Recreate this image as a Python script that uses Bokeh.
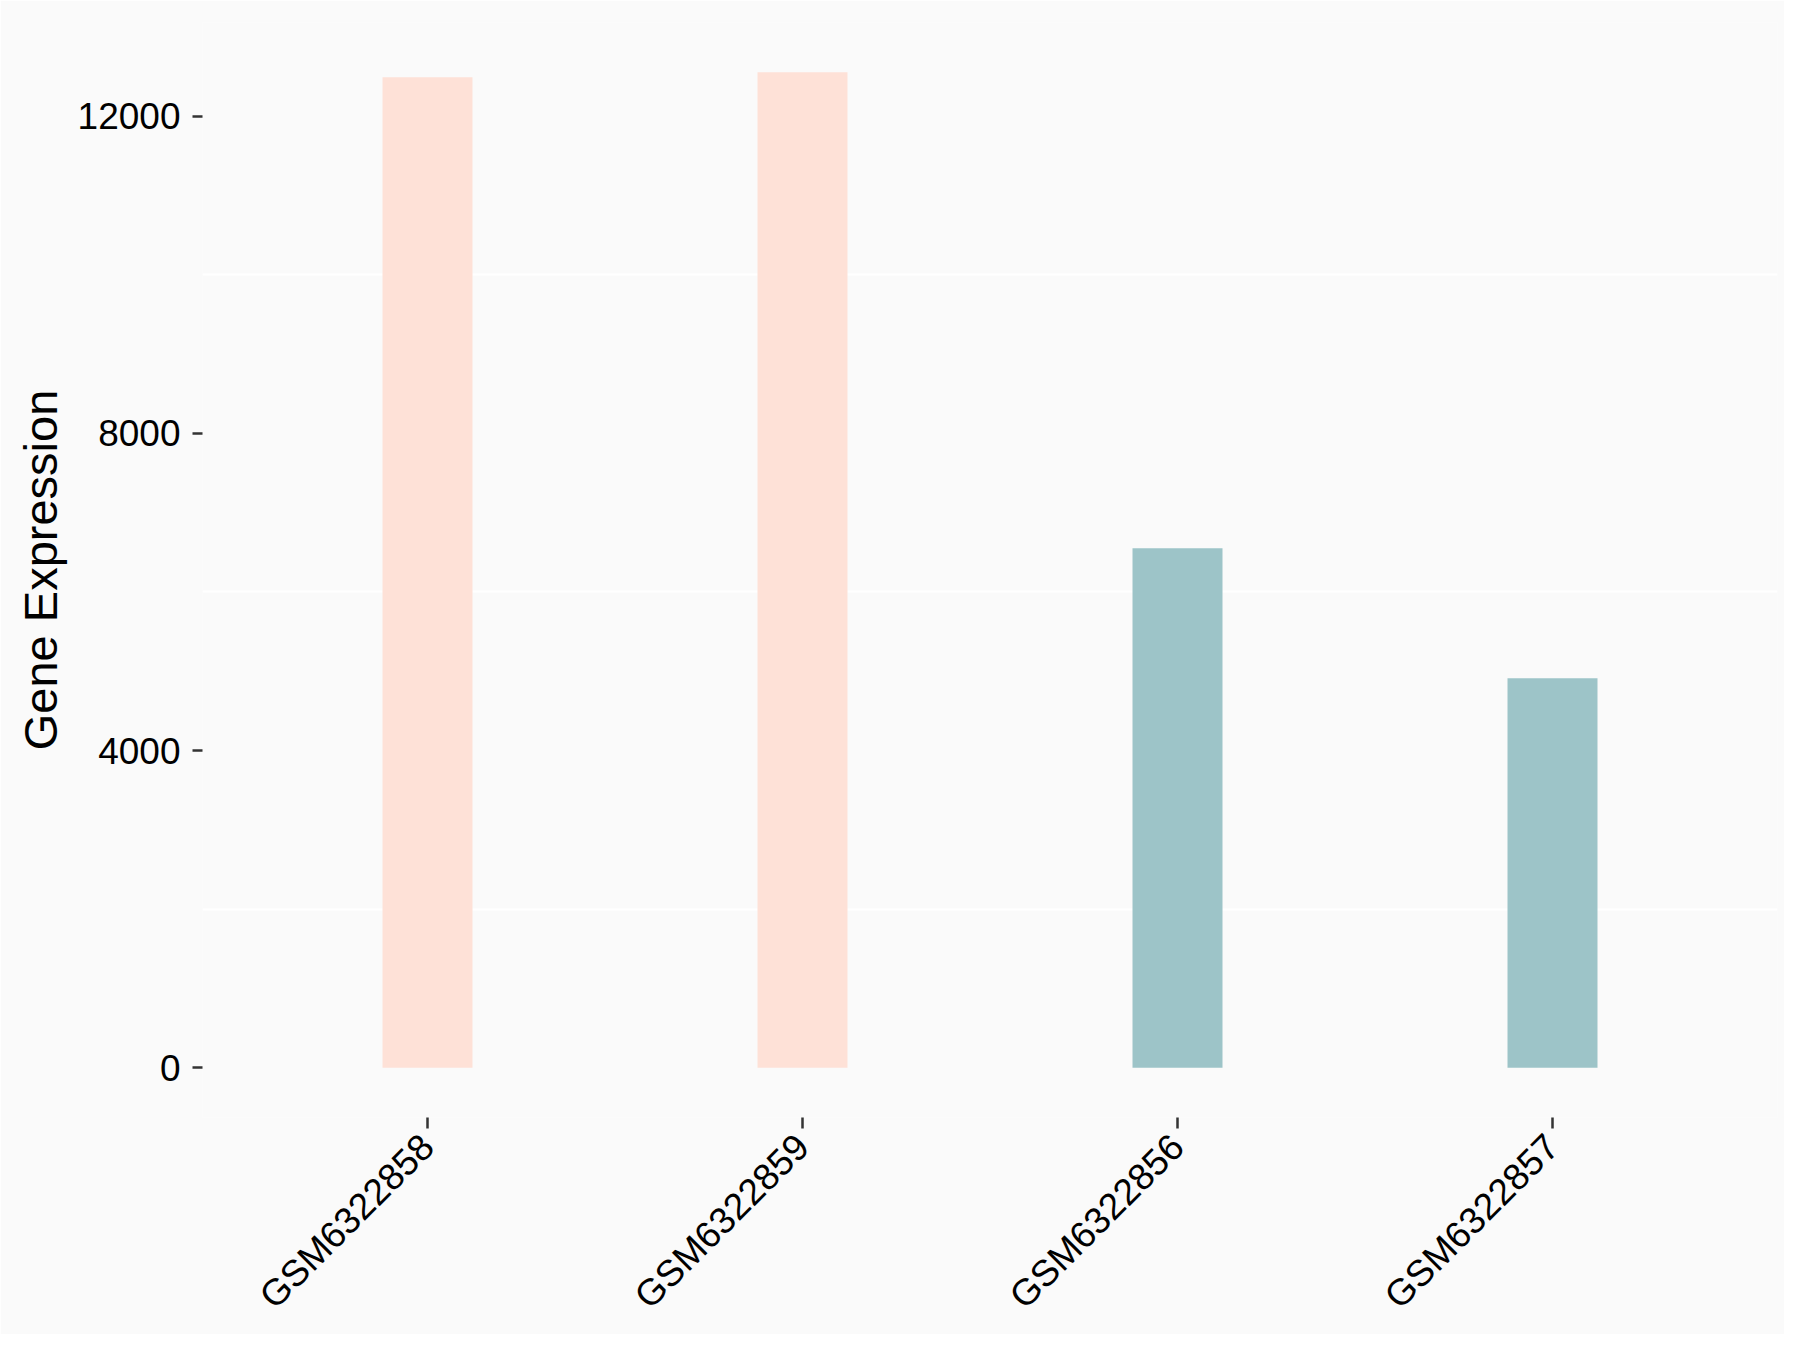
import math
from bokeh.plotting import figure
from bokeh.models import ColumnDataSource, FixedTicker, Range1d
from bokeh.embed import file_html
from bokeh.resources import INLINE

samples = ["GSM6322858", "GSM6322859", "GSM6322856", "GSM6322857"]
expression = [12490, 12553, 6551, 4912]
groups = ["A", "A", "B", "B"]
group_colors = {"A": "#FEE1D7", "B": "#9DC4C8"}
y_ticks = [0, 4000, 8000, 12000]
grid_lines = [2000, 6000, 10000]

src = ColumnDataSource(dict(
    sample=samples,
    value=expression,
    color=[group_colors[g] for g in groups],
))

FONT = "Liberation Sans"
BG = "#FAFAFA"

p = figure(
    x_range=samples,
    y_range=Range1d(-627, 13180),
    width=1784, height=1334,
    output_backend="svg", toolbar_location=None,
    min_border_left=202, min_border_right=7,
    min_border_top=22, min_border_bottom=217,
    background_fill_color=BG, border_fill_color=BG,
)
p.outline_line_color = None
p.x_range.range_padding = 0.05

p.vbar(x="sample", top="value", bottom=0, width=0.24, color="color",
       line_color=None, source=src)

p.xgrid.grid_line_color = None
p.ygrid.ticker = FixedTicker(ticks=grid_lines)
p.ygrid.grid_line_color = "#FFFFFF"
p.ygrid.grid_line_width = 2

p.yaxis.ticker = FixedTicker(ticks=y_ticks)
p.yaxis.axis_label = "Gene Expression"
p.yaxis.axis_label_text_font = FONT
p.yaxis.axis_label_text_font_size = "47px"
p.yaxis.axis_label_text_font_style = "normal"
p.yaxis.axis_label_text_color = "#000000"
p.yaxis.axis_label_standoff = 8

for ax in (p.xaxis, p.yaxis):
    ax.axis_line_color = None
    ax.major_tick_line_color = "#333333"
    ax.major_tick_line_width = 2.5
    ax.major_tick_out = 10
    ax.major_tick_in = 0
    ax.minor_tick_line_color = None
    ax.major_label_text_font = FONT
    ax.major_label_text_font_size = "37px"
    ax.major_label_text_color = "#000000"
    ax.major_label_standoff = 12

p.xaxis.major_tick_out = 11
p.xaxis.major_label_orientation = math.pi / 4

html = file_html(p, INLINE)
html = html.replace("<body>", '<body style="background:#FAFAFA">', 1)
open("out.html", "w").write(html)
